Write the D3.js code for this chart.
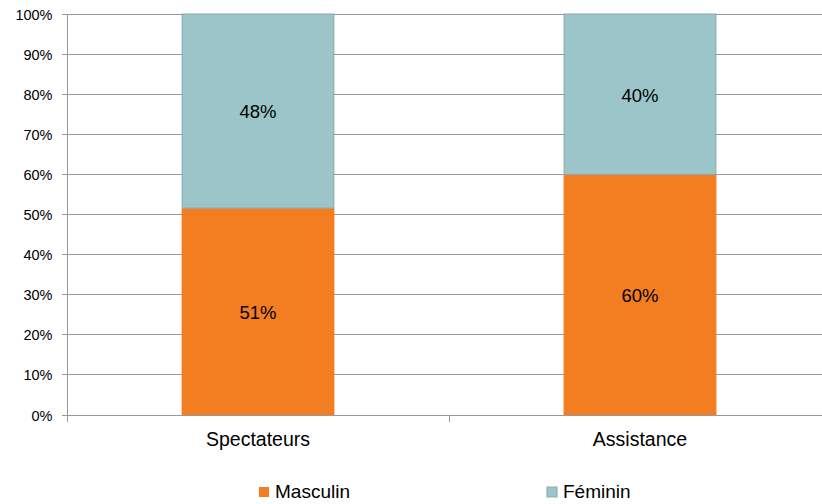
<!DOCTYPE html>
<html><head><meta charset="utf-8">
<script src="https://cdn.jsdelivr.net/npm/d3@7"></script>
<style>body{margin:0;background:#fff;}svg{display:block;font-family:"Liberation Sans",Arial,sans-serif;}</style>
</head><body>
<svg id="c" width="822" height="504"></svg>
<script>
const categories = ["Spectateurs", "Assistance"];
const seriesNames = ["Masculin", "Féminin"];
const masculin = [51.6, 60];
const feminin = [48.4, 40];
const masculinLabels = ["51%", "60%"];
const femininLabels = ["48%", "40%"];
const yTicks = [0,10,20,30,40,50,60,70,80,90,100];
const colors = ["#f37e22", "#9cc5c9"];

(function(){
const svg = d3.select("#c");
const pL = 67, pR = 831, pT = 14, pB = 415;
const x = d3.scaleBand().domain(categories).range([pL, pR]).paddingInner(0.6).paddingOuter(0.3);
const y = d3.scaleLinear().domain([0,100]).range([pB, pT]);

svg.append("g").selectAll("line").data(yTicks).join("line")
  .attr("x1", pL - 5).attr("x2", pR).attr("y1", d=>y(d)).attr("y2", d=>y(d))
  .attr("stroke", "#999").attr("stroke-width", 1).attr("shape-rendering","crispEdges");
svg.append("line").attr("x1", pL).attr("x2", pL).attr("y1", pT).attr("y2", pB+7)
  .attr("stroke","#999").attr("shape-rendering","crispEdges");
const step = x.step();
svg.append("g").selectAll("line").data(d3.range(1, categories.length+1)).join("line")
  .attr("x1", d=>pL + d*step).attr("x2", d=>pL + d*step).attr("y1", pB).attr("y2", pB+7)
  .attr("stroke","#999").attr("shape-rendering","crispEdges");
svg.append("g").selectAll("text").data(yTicks).join("text")
  .attr("x", pL - 14.5).attr("y", d=>y(d)).attr("dy","0.38em").attr("text-anchor","end")
  .attr("font-size", 14.5).attr("fill","#000").text(d=>d+"%");

const stackData = categories.map((c,i)=>({cat:c, m:masculin[i], f:feminin[i], ml:masculinLabels[i], fl:femininLabels[i]}));
const g = svg.append("g");
stackData.forEach(d=>{
  g.append("rect").attr("x", x(d.cat)).attr("width", x.bandwidth())
    .attr("y", y(d.m)).attr("height", y(0)-y(d.m)).attr("fill", colors[0]);
  g.append("rect").attr("x", x(d.cat)+0.5).attr("width", x.bandwidth()-1)
    .attr("y", y(d.m+d.f)).attr("height", y(d.m)-y(d.m+d.f)).attr("fill", colors[1])
    .attr("stroke","#8aa9ab").attr("stroke-width",1);
  g.append("text").attr("x", x(d.cat)+x.bandwidth()/2).attr("y", (y(0)+y(d.m))/2).attr("dy","0.4em")
    .attr("text-anchor","middle").attr("font-size",18.5).text(d.ml);
  g.append("text").attr("x", x(d.cat)+x.bandwidth()/2).attr("y", (y(d.m)+y(d.m+d.f))/2).attr("dy","0.4em")
    .attr("text-anchor","middle").attr("font-size",18.5).text(d.fl);
});
svg.append("g").selectAll("text").data(categories).join("text")
  .attr("x", d=>x(d)+x.bandwidth()/2).attr("y", 446).attr("text-anchor","middle")
  .attr("font-size",19.5).text(d=>d);
const legX = [259, 547];
const lg = svg.append("g").selectAll("g").data(seriesNames).join("g")
  .attr("transform",(d,i)=>`translate(${legX[i]},0)`);
lg.append("rect").attr("x",0).attr("y",487).attr("width",10).attr("height",10)
  .attr("fill",(d,i)=>colors[i]).attr("stroke",(d,i)=>i===1?"#8aa9ab":"none");
lg.append("text").attr("x",16).attr("y",498).attr("font-size",19).text(d=>d);
})();
</script>
</body></html>
